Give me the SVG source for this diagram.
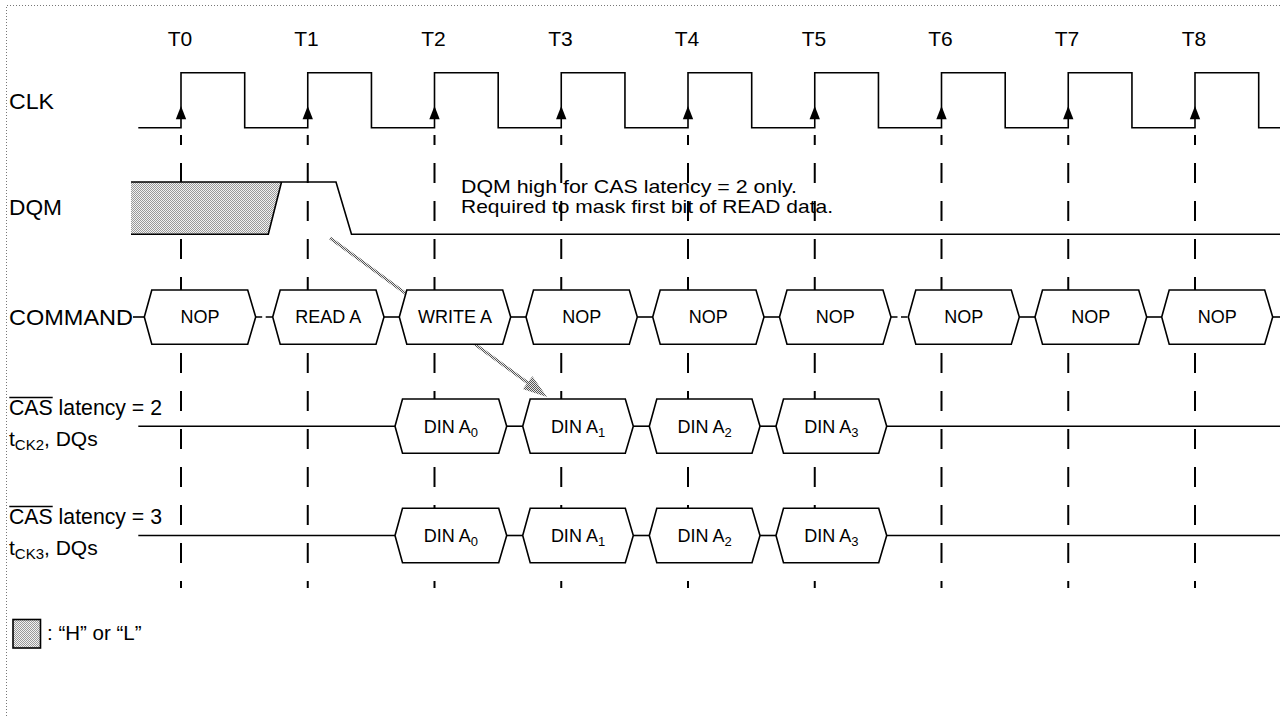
<svg xmlns="http://www.w3.org/2000/svg" width="1280" height="716" viewBox="0 0 1280 716">
<defs>
<style>
text{font-family:"Liberation Sans",Arial,sans-serif;fill:#000}
.w{fill:none;stroke:#000;stroke-width:1.6}
.grid{stroke:#000;stroke-width:2;stroke-dasharray:20 18;stroke-dashoffset:10}
.box{fill:#fff;stroke:#000;stroke-width:1.6;stroke-linejoin:miter}
.bt{font-size:18px;text-anchor:middle}
.sub{font-size:13px}
.tl{font-size:21px;text-anchor:middle}
.lab{font-size:22px}
.border{fill:none;stroke:#777;stroke-width:1;stroke-dasharray:1 2}
.cn{stroke:#000;stroke-width:1.6}
.cnd{stroke:#000;stroke-width:1.6;stroke-dasharray:6.5 3.5}
</style>
<pattern id="shade" width="2" height="2" patternUnits="userSpaceOnUse">
<rect width="2" height="2" fill="#f2f2f2"/>
<rect width="1" height="1" fill="#999"/>
<rect x="1" y="1" width="1" height="1" fill="#999"/>
</pattern>
<pattern id="hatch" width="2" height="2" patternUnits="userSpaceOnUse">
<rect width="2" height="2" fill="#e6e6e6"/>
<rect width="1" height="1" fill="#555"/>
<rect x="1" y="1" width="1" height="1" fill="#555"/>
</pattern>
<path id="edge" d="M0,106 L-5.2,119.3 L5.2,119.3 Z" fill="#000"/>
</defs>
<rect width="1280" height="716" fill="#fff"/>
<path class="border" d="M6.5,716 V5.5 H1280"/>

<g id="tick-labels">
<text class="tl" x="180" y="46">T0</text>
<text class="tl" x="306.5" y="46">T1</text>
<text class="tl" x="433.5" y="46">T2</text>
<text class="tl" x="560.5" y="46">T3</text>
<text class="tl" x="687" y="46">T4</text>
<text class="tl" x="814" y="46">T5</text>
<text class="tl" x="940.5" y="46">T6</text>
<text class="tl" x="1067" y="46">T7</text>
<text class="tl" x="1194" y="46">T8</text>
</g>

<g id="grid">
<line class="grid" x1="181" y1="135" x2="181" y2="588"/>
<line class="grid" x1="307.75" y1="135" x2="307.75" y2="588"/>
<line class="grid" x1="434.5" y1="135" x2="434.5" y2="588"/>
<line class="grid" x1="561.25" y1="135" x2="561.25" y2="588"/>
<line class="grid" x1="688" y1="135" x2="688" y2="588"/>
<line class="grid" x1="814.75" y1="135" x2="814.75" y2="588"/>
<line class="grid" x1="941.5" y1="135" x2="941.5" y2="588"/>
<line class="grid" x1="1068.25" y1="135" x2="1068.25" y2="588"/>
<line class="grid" x1="1195" y1="135" x2="1195" y2="588"/>
</g>

<g id="signal-labels">
<text class="lab" x="9" y="109" textLength="45" lengthAdjust="spacingAndGlyphs">CLK</text>
<text class="lab" x="9" y="215" textLength="53" lengthAdjust="spacingAndGlyphs">DQM</text>
<text class="lab" x="9" y="325" font-size="23" textLength="124" lengthAdjust="spacingAndGlyphs">COMMAND</text>
<text x="9" y="415" font-size="21.5" textLength="153" lengthAdjust="spacingAndGlyphs">CAS latency = 2</text>
<line x1="9.3" y1="397.5" x2="52.7" y2="397.5" stroke="#000" stroke-width="1.4"/>
<text x="9" y="446" font-size="21">t<tspan font-size="15" dy="4">CK2</tspan><tspan dy="-4">, DQs</tspan></text>
<text x="9" y="524" font-size="21.5" textLength="153" lengthAdjust="spacingAndGlyphs">CAS latency = 3</text>
<line x1="9.3" y1="506.5" x2="52.7" y2="506.5" stroke="#000" stroke-width="1.4"/>
<text x="9" y="555" font-size="21">t<tspan font-size="15" dy="4">CK3</tspan><tspan dy="-4">, DQs</tspan></text>
</g>

<g id="clk">
<path class="w" d="M138.3,127.7 H181 V72.7 H244.7 V127.7 H307.75 V72.7 H371.45 V127.7 H434.5 V72.7 H498.2 V127.7 H561.25 V72.7 H624.95 V127.7 H688 V72.7 H751.7 V127.7 H814.75 V72.7 H878.45 V127.7 H941.5 V72.7 H1005.2 V127.7 H1068.25 V72.7 H1131.95 V127.7 H1195 V72.7 H1258.7 V127.7 H1280"/>
<use href="#edge" x="181"/>
<use href="#edge" x="307.75"/>
<use href="#edge" x="434.5"/>
<use href="#edge" x="561.25"/>
<use href="#edge" x="688"/>
<use href="#edge" x="814.75"/>
<use href="#edge" x="941.5"/>
<use href="#edge" x="1068.25"/>
<use href="#edge" x="1195"/>
</g>

<g id="dqm">
<polygon points="131,182 281.5,182 268.3,234.3 131,234.3" fill="url(#shade)"/>
<path class="w" d="M131,182 H336 L351.5,234.3 H1280"/>
<path class="w" d="M131,234.3 H268.3 L281.5,182"/>
</g>

<g id="dqm-note">
<text x="461" y="193" font-size="18.5" textLength="336" lengthAdjust="spacingAndGlyphs">DQM high for CAS latency = 2 only.</text>
<text x="461" y="213" font-size="18.5" textLength="372" lengthAdjust="spacingAndGlyphs">Required to mask first bit of READ data.</text>
</g>

<g id="connectors">
<line class="cn" x1="133" y1="317" x2="144.3" y2="317"/>
<line class="cnd" x1="255.7" y1="317" x2="272.7" y2="317"/>
<line class="cn" x1="384" y1="317" x2="399.3" y2="317"/>
<line class="cn" x1="510.7" y1="317" x2="526" y2="317"/>
<line class="cn" x1="637.3" y1="317" x2="652.7" y2="317"/>
<line class="cn" x1="764" y1="317" x2="779.5" y2="317"/>
<line class="cnd" x1="891" y1="317" x2="908.3" y2="317"/>
<line class="cn" x1="1019.3" y1="317" x2="1035" y2="317"/>
<line class="cn" x1="1146.7" y1="317" x2="1161.7" y2="317"/>
<line class="cn" x1="1273" y1="317" x2="1280" y2="317"/>
<line class="cn" x1="138.3" y1="426.2" x2="395" y2="426.2"/>
<line class="cn" x1="506.7" y1="426.2" x2="522.7" y2="426.2"/>
<line class="cn" x1="633.3" y1="426.2" x2="649.3" y2="426.2"/>
<line class="cn" x1="760" y1="426.2" x2="776" y2="426.2"/>
<line class="cn" x1="886.7" y1="426.2" x2="1280" y2="426.2"/>
<line class="cn" x1="138.3" y1="535.5" x2="395" y2="535.5"/>
<line class="cn" x1="506.7" y1="535.5" x2="522.7" y2="535.5"/>
<line class="cn" x1="633.3" y1="535.5" x2="649.3" y2="535.5"/>
<line class="cn" x1="760" y1="535.5" x2="776" y2="535.5"/>
<line class="cn" x1="886.7" y1="535.5" x2="1280" y2="535.5"/>
<g id="mask-arrow">
<line x1="330" y1="238" x2="528" y2="383" stroke="url(#hatch)" stroke-width="3"/>
<polygon points="547,397 522.8,389 532.4,376.2" fill="url(#hatch)"/>
</g>
</g>

<g id="cmd-t0"><polygon class="box" points="144.3,317 151.8,290 247.7,290 255.7,317 247.7,344.3 151.8,344.3"/><text class="bt" x="200" y="323">NOP</text></g>
<g id="cmd-t1"><polygon class="box" points="272.7,317 280.2,290 376,290 384,317 376,344.3 280.2,344.3"/><text class="bt" x="328.3" y="323">READ A</text></g>
<g id="cmd-t2"><polygon class="box" points="399.3,317 406.8,290 502.7,290 510.7,317 502.7,344.3 406.8,344.3"/><text class="bt" x="455" y="323">WRITE A</text></g>
<g id="cmd-t3"><polygon class="box" points="526,317 533.5,290 629.3,290 637.3,317 629.3,344.3 533.5,344.3"/><text class="bt" x="581.7" y="323">NOP</text></g>
<g id="cmd-t4"><polygon class="box" points="652.7,317 660.2,290 756,290 764,317 756,344.3 660.2,344.3"/><text class="bt" x="708.3" y="323">NOP</text></g>
<g id="cmd-t5"><polygon class="box" points="779.5,317 787,290 883,290 891,317 883,344.3 787,344.3"/><text class="bt" x="835.2" y="323">NOP</text></g>
<g id="cmd-t6"><polygon class="box" points="908.3,317 915.8,290 1011.3,290 1019.3,317 1011.3,344.3 915.8,344.3"/><text class="bt" x="963.8" y="323">NOP</text></g>
<g id="cmd-t7"><polygon class="box" points="1035,317 1042.5,290 1138.7,290 1146.7,317 1138.7,344.3 1042.5,344.3"/><text class="bt" x="1090.8" y="323">NOP</text></g>
<g id="cmd-t8"><polygon class="box" points="1161.7,317 1169.2,290 1264.7,290 1272.7,317 1264.7,344.3 1169.2,344.3"/><text class="bt" x="1217.2" y="323">NOP</text></g>

<g id="cl2-a0"><polygon class="box" points="395,426.2 402.5,399 498.7,399 506.7,426.2 498.7,453.3 402.5,453.3"/><text class="bt" x="450.8" y="432.5">DIN A<tspan class="sub" dy="4">0</tspan></text></g>
<g id="cl2-a1"><polygon class="box" points="522.7,426.2 530.2,399 625.3,399 633.3,426.2 625.3,453.3 530.2,453.3"/><text class="bt" x="578" y="432.5">DIN A<tspan class="sub" dy="4">1</tspan></text></g>
<g id="cl2-a2"><polygon class="box" points="649.3,426.2 656.8,399 752,399 760,426.2 752,453.3 656.8,453.3"/><text class="bt" x="704.6" y="432.5">DIN A<tspan class="sub" dy="4">2</tspan></text></g>
<g id="cl2-a3"><polygon class="box" points="776,426.2 783.5,399 878.7,399 886.7,426.2 878.7,453.3 783.5,453.3"/><text class="bt" x="831.3" y="432.5">DIN A<tspan class="sub" dy="4">3</tspan></text></g>

<g id="cl3-a0"><polygon class="box" points="395,535.5 402.5,508.3 498.7,508.3 506.7,535.5 498.7,562.7 402.5,562.7"/><text class="bt" x="450.8" y="541.8">DIN A<tspan class="sub" dy="4">0</tspan></text></g>
<g id="cl3-a1"><polygon class="box" points="522.7,535.5 530.2,508.3 625.3,508.3 633.3,535.5 625.3,562.7 530.2,562.7"/><text class="bt" x="578" y="541.8">DIN A<tspan class="sub" dy="4">1</tspan></text></g>
<g id="cl3-a2"><polygon class="box" points="649.3,535.5 656.8,508.3 752,508.3 760,535.5 752,562.7 656.8,562.7"/><text class="bt" x="704.6" y="541.8">DIN A<tspan class="sub" dy="4">2</tspan></text></g>
<g id="cl3-a3"><polygon class="box" points="776,535.5 783.5,508.3 878.7,508.3 886.7,535.5 878.7,562.7 783.5,562.7"/><text class="bt" x="831.3" y="541.8">DIN A<tspan class="sub" dy="4">3</tspan></text></g>

<g id="legend">
<rect x="13" y="619.5" width="27.5" height="28.5" fill="url(#shade)" stroke="#000" stroke-width="1.6"/>
<text x="47" y="639.5" font-size="20.5">: “H” or “L”</text>
</g>
</svg>
